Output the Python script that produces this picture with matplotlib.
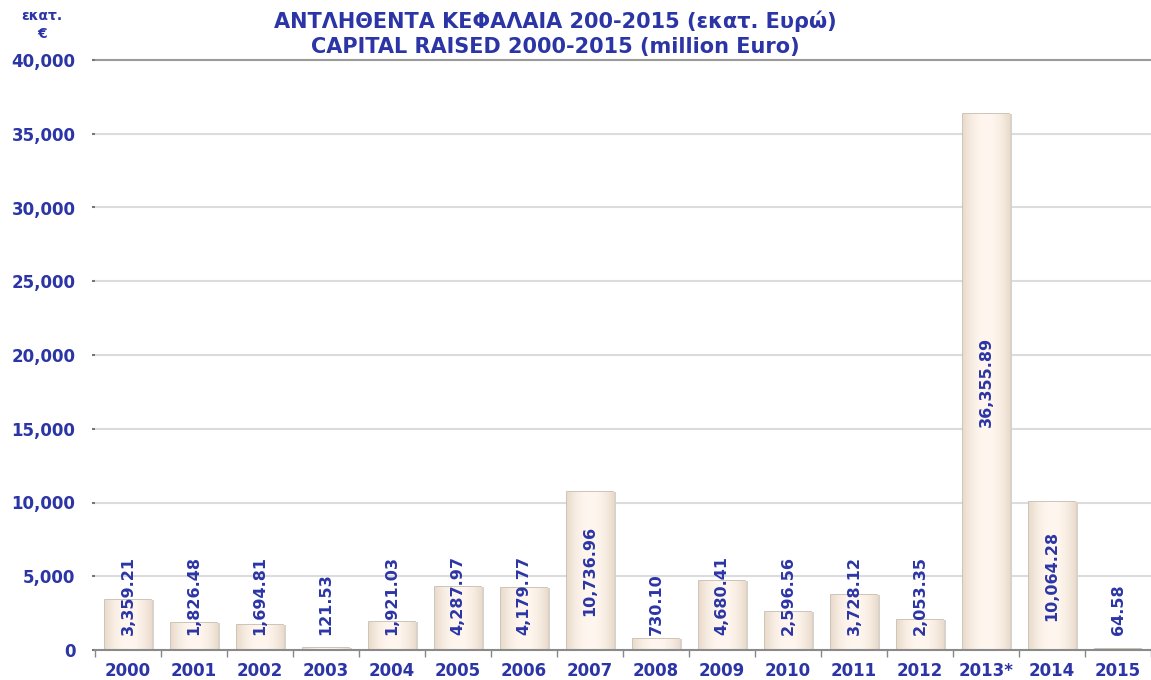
import matplotlib
matplotlib.use("Agg")
import matplotlib.pyplot as plt
import numpy as np

# -----------------------------------------------------------------------
# DATA
# -----------------------------------------------------------------------
years = ["2000", "2001", "2002", "2003", "2004", "2005", "2006", "2007",
         "2008", "2009", "2010", "2011", "2012", "2013*", "2014", "2015"]
capital = [3359.21, 1826.48, 1694.81, 121.53, 1921.03, 4287.97, 4179.77,
           10736.96, 730.10, 4680.41, 2596.56, 3728.12, 2053.35, 36355.89,
           10064.28, 64.58]
value_labels = ["3,359.21", "1,826.48", "1,694.81", "121.53", "1,921.03",
                "4,287.97", "4,179.77", "10,736.96", "730.10", "4,680.41",
                "2,596.56", "3,728.12", "2,053.35", "36,355.89", "10,064.28",
                "64.58"]
yticks = [0, 5000, 10000, 15000, 20000, 25000, 30000, 35000, 40000]

BLUE = "#2b35a5"
plt.rcParams["font.family"] = "DejaVu Sans"

fig = plt.figure(figsize=(11.51, 6.80), dpi=100)
ax = fig.add_axes([95 / 1151, 1 - 650 / 680, 1 - 95 / 1151, (650 - 60) / 680])

x = np.arange(len(years))
# soft drop shadow then bar
ax.bar(x + 0.04, capital, width=0.7, color="#d9d2ca", edgecolor="none", zorder=2)
bars = ax.bar(x, capital, width=0.7, color="#fcefe2", edgecolor="#c4b9ad",
              linewidth=1.2, zorder=3)

# horizontal gradient inside each bar (lighter centre)
grad = np.linspace(-1, 1, 64)
shade = 1 - 0.5 * np.abs(grad) ** 2
cmap = matplotlib.colors.LinearSegmentedColormap.from_list(
    "cream", ["#eadccd", "#fff7ef"])
for b in bars:
    h = b.get_height()
    if h <= 0:
        continue
    im = ax.imshow(shade[np.newaxis, :], cmap=cmap, aspect="auto",
                   extent=(b.get_x(), b.get_x() + b.get_width(), 0, h),
                   zorder=3.5, vmin=0.5, vmax=1)
    im.set_clip_path(b)

for xi, v, lab in zip(x, capital, value_labels):
    if v > 8000:
        ax.text(xi, v / 2, lab, rotation=90, ha="center", va="center",
                color=BLUE, fontsize=11.5, fontweight="bold", zorder=5)
    else:
        ax.text(xi, 1000, lab, rotation=90, ha="center", va="bottom",
                color=BLUE, fontsize=11.5, fontweight="bold", zorder=5)

ax.set_xlim(-0.5, len(years) - 0.5)
ax.set_ylim(0, 40000)
ax.set_yticks(yticks)
ax.set_yticklabels([f"{t:,}" for t in yticks])
ax.set_xticks(x)
ax.set_xticklabels(years)
ax.set_xticks(np.arange(-0.5, len(years)), minor=True)
ax.tick_params(axis="x", which="major", length=0, pad=9, labelsize=12,
               labelcolor=BLUE)
ax.tick_params(axis="x", which="minor", length=5, width=1, color="#888888",
               direction="out")
ax.tick_params(axis="y", length=2, width=1.5, color="#777777", pad=12,
               labelsize=12, labelcolor=BLUE)
for lab in ax.get_xticklabels() + ax.get_yticklabels():
    lab.set_fontweight("bold")

for t in yticks[1:-1]:
    ax.axhline(t, color="#dcdcdc", lw=1.5, zorder=1)
ax.axhline(40000, color="#9a9a9a", lw=1.5, zorder=1, clip_on=False)

for s in ["top", "right", "left"]:
    ax.spines[s].set_visible(False)
ax.spines["bottom"].set_color("#8a8a8a")
ax.spines["bottom"].set_linewidth(1.5)
ax.spines["bottom"].set_zorder(6)

fig.text(555 / 1151, 1 - 28 / 680,
         "ΑΝΤΛΗΘΕΝΤΑ ΚΕΦΑΛΑΙΑ 200-2015 (εκατ. Ευρώ)",
         ha="center", va="baseline", color=BLUE, fontsize=15, fontweight="bold")
fig.text(555 / 1151, 1 - 53 / 680,
         "CAPITAL RAISED 2000-2015 (million Euro)",
         ha="center", va="baseline", color=BLUE, fontsize=15, fontweight="bold")
fig.text(42 / 1151, 1 - 20 / 680, "εκατ.", ha="center", va="baseline",
         color=BLUE, fontsize=10, fontweight="bold")
fig.text(42 / 1151, 1 - 38 / 680, "€", ha="center", va="baseline",
         color=BLUE, fontsize=10, fontweight="bold")

fig.savefig("out.png", dpi=100)
